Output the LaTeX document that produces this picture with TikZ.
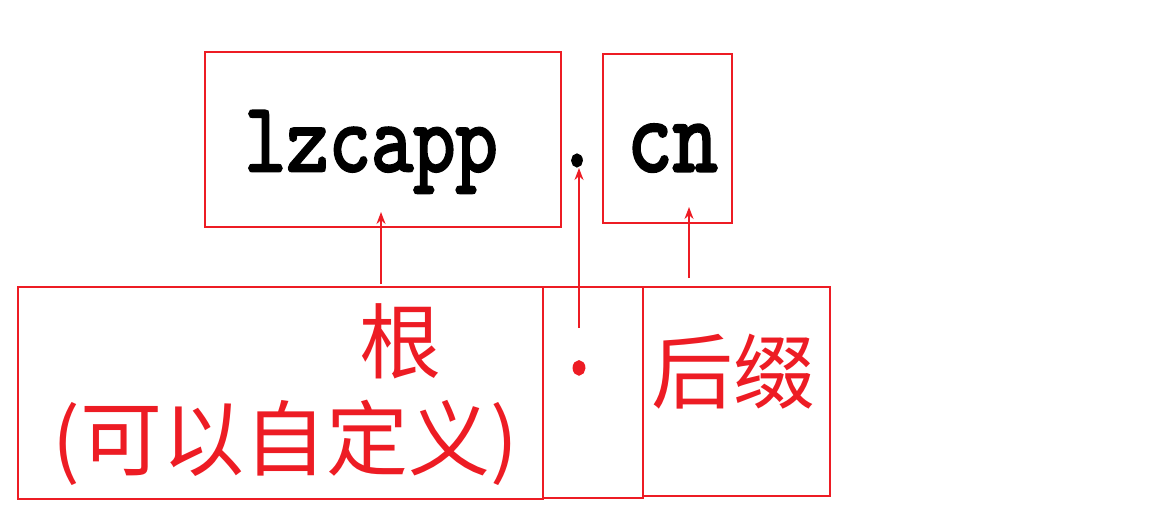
\documentclass[tikz,border=0pt]{standalone}
\usepackage{fontspec}
\usetikzlibrary{arrows.meta, calc}
\newfontfamily\cjk{Noto Sans CJK SC}
\newfontfamily\mono[FakeBold=3]{Latin Modern Mono}
\definecolor{lred}{RGB}{237,28,36}
\newcommand{\dom}[2][41]{\scalebox{1}[1.2]{\mono\fontsize{#1}{#1}\selectfont #2}}

\begin{document}
\begin{tikzpicture}[x=0.5pt,y=-0.5pt]
		\tikzstyle{box} = [draw=lred, line width=1pt, inner sep=0pt]
		\tikzstyle{pointer} = [lred, line width=0.9pt, -{Stealth[length=6pt,width=4.5pt]}]
		\tikzstyle{zh} = [lred, font=\cjk\fontsize{41}{41}\selectfont, inner sep=0pt]
		\useasboundingbox (0,0) rectangle (1160,527);
		% domain parts
		\node[box, minimum width=178pt, minimum height=87.5pt, text height=42.5pt, text depth=11pt] (name) at (383,139.5) {\dom{lzcapp}\kern12pt};
		\node[inner sep=0pt, anchor=base] (dot) at (577,166) {\dom{.}};
		\node[box, minimum width=64.5pt, minimum height=84.5pt, text height=32.5pt, text depth=0pt] (cn) at (667.5,138.5) {\kern5pt\dom[44]{cn}};
		% explanations
		\node[box, minimum width=262.5pt, minimum height=106pt] (root) at (280.5,393) {};
		\node[box, minimum width=50pt, minimum height=105.5pt] (sep) at (593,392.5) {};
		\node[box, minimum width=93.5pt, minimum height=104.5pt] (suffix) at (736.5,391.5) {};
		\node[zh] (gen) at (400,341) {根}; \node[zh] (custom) at (285,443) {(可以自定义)};
		\node[lred, inner sep=0pt, anchor=base] (reddot) at (579,374) {\dom[45]{.}};
		\node[zh] (hz) at (733,372) {后缀};
		\coordinate (dtail) at (579,328); \coordinate (ctail) at (689,278);
		\draw[pointer] ($(root.north -| name.south)+(-2,-2)$) -- ($(name.south)+(-2,-16)$);
		\draw[pointer] (dtail) -- ($(dot.base)+(2,2)$);
		\draw[pointer] (ctail) -- ($(cn.south)+(21.5,-17)$);
\end{tikzpicture}
\end{document}
